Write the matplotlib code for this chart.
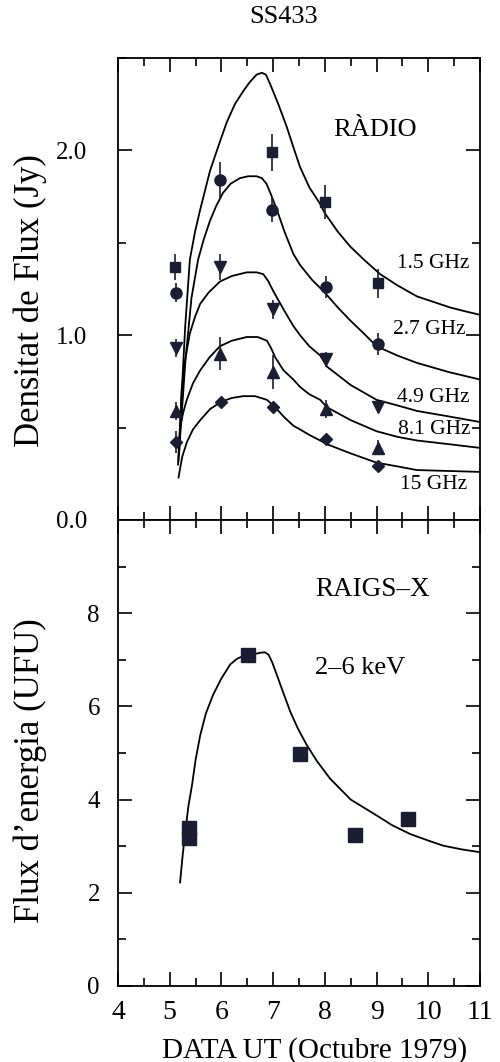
import numpy as np
import matplotlib
matplotlib.use("Agg")
import matplotlib.pyplot as plt

plt.rcParams['font.family'] = ['Liberation Serif', 'DejaVu Serif']

# --- radio data (flux density, Jy) ---
x_15 = [5.10, 6.97, 8.00, 9.02]
y_15 = [1.37, 1.99, 1.72, 1.28]
e_15 = [0.07, 0.10, 0.09, 0.08]

x_27 = [5.13, 5.97, 6.98, 8.02, 9.02]
y_27 = [1.23, 1.84, 1.68, 1.26, 0.95]
e_27 = [0.05, 0.095, 0.07, 0.06, 0.06]

x_49 = [5.12, 5.97, 7.00, 8.02, 9.02]
y_49 = [0.93, 1.37, 1.14, 0.87, 0.61]
e_49 = [0.05, 0.07, 0.05, 0.04, 0.03]

x_81 = [5.12, 5.97, 7.00, 8.03, 9.02]
y_81 = [0.59, 0.90, 0.80, 0.60, 0.39]
e_81 = [0.05, 0.09, 0.09, 0.05, 0.04]

x_150 = [5.13, 6.00, 7.00, 8.03, 9.02]
y_150 = [0.42, 0.64, 0.61, 0.44, 0.29]
e_150 = [0.06, 0.0, 0.0, 0.0, 0.0]

# model curves
cx_15 = [5.16, 5.30, 5.39, 5.49, 5.59, 5.78, 5.95, 6.10, 6.26, 6.42, 6.55, 6.68, 6.78,
         6.86, 6.94, 7.10, 7.26, 7.40, 7.52, 7.70, 7.91, 8.00, 8.25, 8.49, 8.75, 9.07,
         9.40, 9.78, 10.10, 10.42, 10.70, 11.0]
cy_15 = [0.30, 1.05, 1.41, 1.56, 1.68, 1.89, 2.03, 2.15, 2.25, 2.32, 2.37, 2.41, 2.42,
         2.41, 2.36, 2.25, 2.13, 2.01, 1.91, 1.80, 1.71, 1.66, 1.56, 1.48, 1.41, 1.33,
         1.27, 1.21, 1.18, 1.15, 1.13, 1.11]

cx_27 = [5.17, 5.30, 5.42, 5.55, 5.66, 5.78, 5.90, 6.03, 6.18, 6.36, 6.52, 6.68, 6.78,
         6.87, 6.96, 7.07, 7.22, 7.39, 7.52, 7.75, 8.00, 8.25, 8.49, 8.75, 9.00, 9.40,
         9.78, 10.40, 11.0]
cy_27 = [0.32, 0.85, 1.20, 1.41, 1.52, 1.62, 1.70, 1.77, 1.82, 1.85, 1.86, 1.86, 1.85,
         1.82, 1.76, 1.68, 1.56, 1.44, 1.38, 1.30, 1.23, 1.15, 1.08, 1.01, 0.94, 0.89,
         0.85, 0.80, 0.76]

cx_49 = [5.18, 5.23, 5.30, 5.39, 5.49, 5.59, 5.75, 5.97, 6.20, 6.49, 6.68, 6.81, 6.91,
         7.00, 7.20, 7.39, 7.52, 7.70, 7.91, 8.04, 8.50, 9.00, 9.40, 9.78, 10.40, 11.0]
cy_49 = [0.35, 0.70, 0.87, 1.01, 1.10, 1.17, 1.23, 1.29, 1.32, 1.34, 1.34, 1.33, 1.29,
         1.24, 1.14, 1.05, 1.00, 0.94, 0.89, 0.83, 0.73, 0.65, 0.62, 0.59, 0.56, 0.53]

cx_81 = [5.18, 5.20, 5.26, 5.33, 5.45, 5.59, 5.77, 5.97, 6.20, 6.49, 6.70, 6.88, 6.96,
         7.04, 7.20, 7.39, 7.52, 7.70, 7.91, 8.04, 8.50, 9.00, 9.40, 9.78, 10.40, 11.0]
cy_81 = [0.38, 0.50, 0.58, 0.65, 0.74, 0.81, 0.88, 0.94, 0.97, 0.99, 0.99, 0.97, 0.93,
         0.88, 0.81, 0.76, 0.72, 0.68, 0.65, 0.61, 0.54, 0.48, 0.45, 0.43, 0.41, 0.39]

cx_150 = [5.17, 5.24, 5.33, 5.45, 5.59, 5.78, 6.00, 6.20, 6.42, 6.65, 6.88, 6.96, 7.04,
          7.20, 7.39, 7.52, 7.70, 7.91, 8.04, 8.50, 9.00, 9.40, 9.78, 10.40, 11.0]
cy_150 = [0.23, 0.34, 0.42, 0.49, 0.54, 0.60, 0.64, 0.66, 0.67, 0.67, 0.65, 0.63, 0.61,
          0.56, 0.51, 0.49, 0.46, 0.43, 0.41, 0.36, 0.31, 0.29, 0.27, 0.265, 0.26]

freq_labels = ['1.5 GHz', '2.7 GHz', '4.9 GHz', '8.1 GHz', '15 GHz']
label_x = [9.39, 9.32, 9.39, 9.41, 9.45]
label_y = [1.39, 1.03, 0.66, 0.49, 0.19]

# --- X-ray data (UFU) ---
xr_x = [5.37, 5.37, 6.52, 7.52, 8.58, 9.60]
xr_y = [3.38, 3.18, 7.10, 4.97, 3.24, 3.59]

xr_cx = [5.20, 5.25, 5.30, 5.36, 5.43, 5.50, 5.59, 5.70, 5.84, 6.00, 6.17, 6.30, 6.42,
         6.55, 6.75, 6.84, 6.91, 6.98, 7.07, 7.20, 7.33, 7.48, 7.65, 7.85, 8.10, 8.50,
         9.00, 9.30, 9.65, 10.00, 10.29, 10.65, 11.0]
xr_cy = [2.22, 2.80, 3.30, 3.85, 4.30, 4.85, 5.38, 5.85, 6.25, 6.60, 6.90, 7.02, 7.08,
         7.10, 7.15, 7.16, 7.11, 6.95, 6.68, 6.28, 5.89, 5.52, 5.17, 4.82, 4.45, 4.00,
         3.66, 3.45, 3.26, 3.12, 3.01, 2.93, 2.87]

mcol = '#1b1d33'

fig = plt.figure(figsize=(5, 10.62), dpi=100)
ax1 = fig.add_axes([0.236, 0.5104, 0.724, 0.435])
ax2 = fig.add_axes([0.236, 0.0716, 0.724, 0.4388])

series = [
    (x_15, y_15, e_15, 's', 7),
    (x_27, y_27, e_27, 'o', 8),
    (x_49, y_49, e_49, 'v', 8),
    (x_81, y_81, e_81, '^', 8),
    (x_150, y_150, e_150, 'D', 6),
]
for xs, ys, es, m, ms in series:
    ax1.errorbar(xs, ys, yerr=es, fmt=m, ms=ms, color=mcol, ecolor=mcol,
                 elinewidth=1.2, capsize=0, zorder=3)

for cx, cy in [(cx_15, cy_15), (cx_27, cy_27), (cx_49, cy_49), (cx_81, cy_81), (cx_150, cy_150)]:
    ax1.plot(cx, cy, color='black', lw=1.3, zorder=2)

for lab, lx, ly in zip(freq_labels, label_x, label_y):
    ax1.text(lx, ly, lab, fontsize=15.5, ha='left', va='center')

ax1.text(8.16, 2.11, 'RÀDIO', fontsize=19, ha='left', va='center')

ax1.set_xlim(4, 11)
ax1.set_ylim(0, 2.5)
ax1.set_yticks([0, 1, 2])
ax1.set_yticklabels(['0.0', '1.0', '2.0'])
ax1.set_yticks([0.5, 1.5, 2.5], minor=True)
ax1.set_xticks(range(4, 12))
ax1.set_xticks(np.arange(4.5, 11, 1.0), minor=True)
ax1.tick_params(axis='x', labelbottom=False)

ax2.plot(xr_cx, xr_cy, color='black', lw=1.3, zorder=2)
ax2.plot(xr_x, xr_y, 's', ms=10, color=mcol, zorder=3)
ax2.text(7.81, 8.5, 'RAIGS–X', fontsize=19.5, ha='left', va='center')
ax2.text(7.81, 6.82, '2–6 keV', fontsize=19, ha='left', va='center')

ax2.set_xlim(4, 11)
ax2.set_ylim(0, 10)
ax2.set_yticks([0, 2, 4, 6, 8])
ax2.set_yticks([1, 3, 5, 7, 9], minor=True)
ax2.set_xticks(range(4, 12))
ax2.set_xticks(np.arange(4.5, 11, 1.0), minor=True)

for ax in (ax1, ax2):
    ax.tick_params(which='both', direction='in', top=True, right=True, width=1.2)
    ax.tick_params(which='major', length=10)
    ax.tick_params(which='minor', length=6)
    ax.tick_params(axis='y', labelsize=18)
    ax.tick_params(axis='x', labelsize=20, pad=10)
    for s in ax.spines.values():
        s.set_linewidth(1.3)
ax1.tick_params(axis='y', pad=22)
ax2.tick_params(axis='y', pad=13)

fig.text(0.568, 0.984, 'SS433', fontsize=19, ha='center', va='center')
fig.text(0.06, 0.717, 'Densitat de Flux (Jy)', fontsize=25, rotation=90, ha='center', va='center')
fig.text(0.06, 0.274, 'Flux d’energia (UFU)', fontsize=25, rotation=90, ha='center', va='center')
fig.text(0.63, 0.011, 'DATA UT (Octubre 1979)', fontsize=21, ha='center', va='center')

fig.savefig('out.png', dpi=100)
